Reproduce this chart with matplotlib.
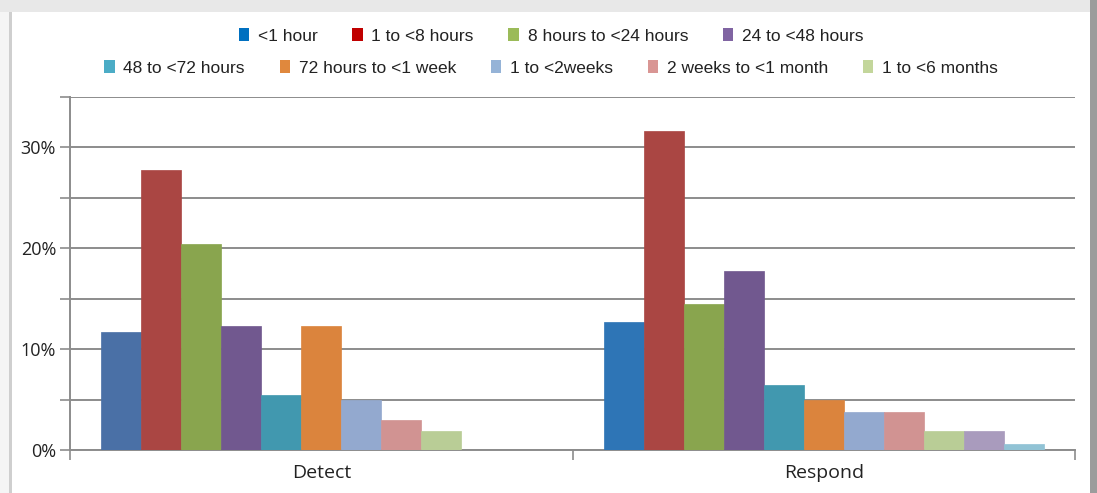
import numpy as np
import matplotlib.pyplot as plt
from matplotlib.patches import Patch, Rectangle

# data (percent)
categories = ['Detect', 'Respond']
series_labels = ['<1 hour', '1 to <8 hours', '8 hours to <24 hours', '24 to <48 hours',
                 '48 to <72 hours', '72 hours to <1 week', '1 to <2weeks',
                 '2 weeks to <1 month', '1 to <6 months']
detect = [11.7, 27.8, 20.4, 12.3, 5.5, 12.3, 5.0, 3.0, 1.85, 0, 0]
respond = [12.7, 31.6, 14.5, 17.7, 6.4, 5.0, 3.8, 3.8, 1.85, 1.85, 0.6]

bar_colors = ['#4a70a6', '#aa4643', '#89a54e', '#71588f', '#4198af', '#db843d',
              '#93a9cf', '#d19392', '#b9cd96', '#a99bbd', '#91c3d5']
respond_blue = '#2e75b6'
legend_colors = ['#0070c0', '#c00000', '#9bbb59', '#8064a2', '#4bacc6', '#e0883d',
                 '#95b3d7', '#d99694', '#c3d69b']

W, H = 1097, 493
fig = plt.figure(figsize=(W / 100, H / 100), dpi=100)
fig.patch.set_facecolor('white')

# card background / shadow
def px_rect(x0, y0, x1, y1, color):
    fig.add_artist(Rectangle((x0 / W, 1 - y1 / H), (x1 - x0) / W, (y1 - y0) / H,
                             transform=fig.transFigure, color=color, lw=0, zorder=-10))

px_rect(0, 0, W, 12, '#e8e8e8')
px_rect(0, 12, 12, H, '#f5f5f5')
px_rect(9, 12, 12, H, '#cfcfcf')
px_rect(1090, 0, W, H, '#9c9c9c')

ax = fig.add_axes([70 / W, 1 - 450 / H, (1075 - 70) / W, (450 - 97) / H])

n = len(detect)
group_w = 0.876
w = group_w / n
x = np.arange(len(categories))
for i in range(n):
    vals = [detect[i], respond[i]]
    cols = [bar_colors[i], respond_blue if i == 0 else bar_colors[i]]
    pos = x - group_w / 2 + w * (i + 0.5)
    ax.bar(pos, vals, width=w, color=cols, edgecolor=cols, linewidth=0.5, zorder=3)

ax.set_xlim(-0.5, 1.5)
ax.set_ylim(0, 35)

grid_c = '#8c8c8c'
ax.set_yticks(np.arange(0, 36, 5))
ax.set_yticklabels(['0%', '', '10%', '', '20%', '', '30%', ''])
ax.yaxis.grid(True, color=grid_c, lw=1.4, zorder=0)
ax.tick_params(axis='y', length=7, width=1.2, color=grid_c, labelsize=13,
               labelcolor='#222222', pad=3)

ax.set_xticks([-0.5, 0.5, 1.5])
ax.set_xticklabels([])
ax.tick_params(axis='x', which='major', length=7, width=1.2, color=grid_c)
ax.set_xticks(x, minor=True)
ax.set_xticklabels(categories, minor=True)
ax.tick_params(axis='x', which='minor', length=0, labelsize=14, labelcolor='#222222', pad=10)

for s in ['top', 'right']:
    ax.spines[s].set_visible(False)
for s in ['left', 'bottom']:
    ax.spines[s].set_color(grid_c)
    ax.spines[s].set_linewidth(1.4)

for t in ax.get_yticklabels() + ax.get_xticklabels(minor=True):
    t.set_family(['Open Sans', 'DejaVu Sans'])

handles = [Patch(facecolor=c, edgecolor='none') for c in legend_colors]
leg_font = {'family': ['Liberation Sans', 'DejaVu Sans'], 'size': 12.5}
leg_kw = dict(frameon=False, prop=leg_font, handlelength=0.6, handleheight=0.8,
              handletextpad=0.5, columnspacing=2.0, labelcolor='#222222')
l1 = fig.legend(handles[:4], series_labels[:4], ncol=4, loc='center',
                bbox_to_anchor=(551 / W, 1 - 36 / H), **leg_kw)
l2 = fig.legend(handles[4:], series_labels[4:], ncol=5, loc='center',
                bbox_to_anchor=(551 / W, 1 - 68 / H), **leg_kw)

fig.savefig('out.png', dpi=100)
